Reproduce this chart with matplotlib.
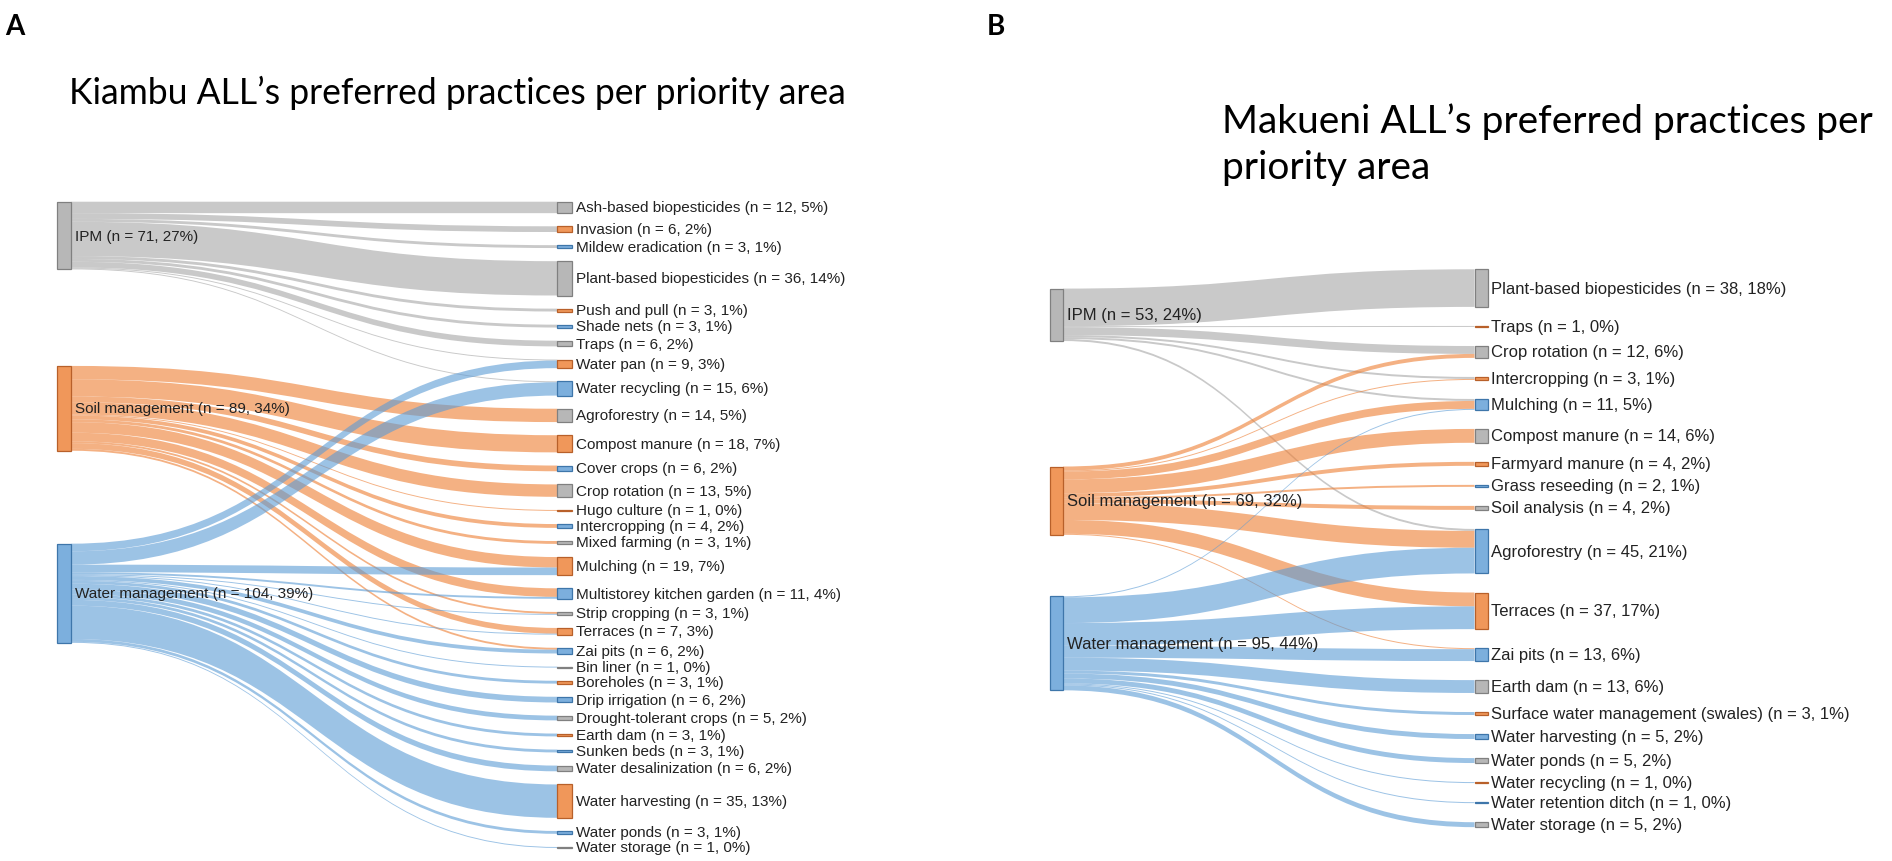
import matplotlib.pyplot as plt
from matplotlib.path import Path
from matplotlib.patches import PathPatch, Rectangle


# Datos del panel A (Kiambu)
kiambu_sources = ['IPM', 'Soil management', 'Water management']
kiambu_source_n = [71, 89, 104]
kiambu_targets = ['Ash-based biopesticides', 'Invasion', 'Mildew eradication',
                  'Plant-based biopesticides', 'Push and pull', 'Shade nets', 'Traps',
                  'Water pan', 'Water recycling', 'Agroforestry', 'Compost manure',
                  'Cover crops', 'Crop rotation', 'Hugo culture', 'Intercropping',
                  'Mixed farming', 'Mulching', 'Multistorey kitchen garden',
                  'Strip cropping', 'Terraces', 'Zai pits', 'Bin liner', 'Boreholes',
                  'Drip irrigation', 'Drought-tolerant crops', 'Earth dam', 'Sunken beds',
                  'Water desalinization', 'Water harvesting', 'Water ponds', 'Water storage']
kiambu_target_n = [12, 6, 3, 36, 3, 3, 6, 9, 15, 14, 18, 6, 13, 1, 4, 3, 19, 11, 3, 7,
                   6, 1, 3, 6, 5, 3, 3, 6, 35, 3, 1]
kiambu_link_src = [0] * 9 + [1] * 12 + [2] * 17
kiambu_link_tgt = ['Ash-based biopesticides', 'Invasion', 'Mildew eradication',
                   'Plant-based biopesticides', 'Push and pull', 'Shade nets', 'Traps',
                   'Water pan', 'Water recycling',
                   'Agroforestry', 'Compost manure', 'Cover crops', 'Crop rotation',
                   'Hugo culture', 'Intercropping', 'Mixed farming', 'Mulching',
                   'Multistorey kitchen garden', 'Strip cropping', 'Terraces', 'Zai pits',
                   'Water pan', 'Water recycling', 'Mulching', 'Multistorey kitchen garden',
                   'Strip cropping', 'Terraces', 'Zai pits', 'Bin liner', 'Boreholes',
                   'Drip irrigation', 'Drought-tolerant crops', 'Earth dam', 'Sunken beds',
                   'Water desalinization', 'Water harvesting', 'Water ponds', 'Water storage']
kiambu_link_val = [12, 6, 3, 36, 3, 3, 6, 1, 1,
                   14, 18, 6, 13, 1, 4, 3, 11, 9, 2, 6, 2,
                   8, 14, 8, 2, 1, 1, 4, 1, 3, 6, 5, 3, 3, 6, 35, 3, 1]
kiambu_node_col = ['g', 'o', 'b'] * 10 + ['g']

# Datos del panel B (Makueni)
makueni_sources = ['IPM', 'Soil management', 'Water management']
makueni_source_n = [53, 69, 95]
makueni_targets = ['Plant-based biopesticides', 'Traps', 'Crop rotation', 'Intercropping',
                   'Mulching', 'Compost manure', 'Farmyard manure', 'Grass reseeding',
                   'Soil analysis', 'Agroforestry', 'Terraces', 'Zai pits', 'Earth dam',
                   'Surface water management (swales)', 'Water harvesting', 'Water ponds',
                   'Water recycling', 'Water retention ditch', 'Water storage']
makueni_target_n = [38, 1, 12, 3, 11, 14, 4, 2, 4, 45, 37, 13, 13, 3, 5, 5, 1, 1, 5]
makueni_link_src = [0] * 6 + [1] * 10 + [2] * 11
makueni_link_tgt = ['Plant-based biopesticides', 'Traps', 'Crop rotation', 'Intercropping',
                    'Mulching', 'Agroforestry',
                    'Crop rotation', 'Intercropping', 'Mulching', 'Compost manure',
                    'Farmyard manure', 'Grass reseeding', 'Soil analysis', 'Agroforestry',
                    'Terraces', 'Zai pits',
                    'Mulching', 'Agroforestry', 'Terraces', 'Zai pits', 'Earth dam',
                    'Surface water management (swales)', 'Water harvesting', 'Water ponds',
                    'Water recycling', 'Water retention ditch', 'Water storage']
makueni_link_val = [38, 1, 8, 2, 2, 2,
                    4, 1, 8, 14, 4, 2, 4, 17, 14, 1,
                    1, 26, 23, 12, 13, 3, 5, 5, 1, 1, 5]
makueni_node_col = ['g', 'o', 'g', 'o', 'b', 'g', 'o', 'b', 'g', 'b', 'o', 'b', 'g', 'o',
                    'b', 'g', 'o', 'b', 'g']


colores = {'g': ('#a5a5a5', '#808080'), 'o': ('#ed7d31', '#b8602a'), 'b': ('#5b9bd5', '#3e76aa')}
fuente = ['Liberation Sans', 'DejaVu Sans']
fuente_titulo = ['Lato', 'DejaVu Sans']
W = 1568.0
H = W * 862 / 1892


def sankey(ax, sources, source_n, targets, target_n, link_src, link_tgt, link_val,
           node_col, xl, xr, top_l, gaps_l, top_r, gap_r, k, w, fs):
    src_col = ['g', 'o', 'b']
    total = sum(source_n)
    # posiciones de los nodos
    sy = []
    y = top_l
    for i, n in enumerate(source_n):
        sy.append(y)
        y += n * k + (gaps_l[i] if i < len(gaps_l) else 0)
    ty = []
    y = top_r
    for n in target_n:
        ty.append(y)
        y += n * k + gap_r
    t_idx = {t: j for j, t in enumerate(targets)}
    nl = len(link_val)
    tj = [t_idx[t] for t in link_tgt]
    # desplazamientos en origen y destino
    a0 = [0] * nl
    b0 = [0] * nl
    off = list(sy)
    for i in sorted(range(nl), key=lambda i: (link_src[i], tj[i])):
        a0[i] = off[link_src[i]]
        off[link_src[i]] += link_val[i] * k
    off = list(ty)
    for i in sorted(range(nl), key=lambda i: (tj[i], link_src[i])):
        b0[i] = off[tj[i]]
        off[tj[i]] += link_val[i] * k
    xs = xl + w
    xt = xr
    xm = (xs + xt) / 2
    for i in range(nl):
        h = link_val[i] * k
        verts = [(xs, a0[i]), (xm, a0[i]), (xm, b0[i]), (xt, b0[i]),
                 (xt, b0[i] + h), (xm, b0[i] + h), (xm, a0[i] + h), (xs, a0[i] + h),
                 (xs, a0[i])]
        codes = [Path.MOVETO, Path.CURVE4, Path.CURVE4, Path.CURVE4,
                 Path.LINETO, Path.CURVE4, Path.CURVE4, Path.CURVE4, Path.CLOSEPOLY]
        ax.add_patch(PathPatch(Path(verts, codes), facecolor=colores[src_col[link_src[i]]][0],
                               edgecolor='none', alpha=0.6, zorder=1))
    # nodos de origen
    for i, n in enumerate(source_n):
        c = colores[src_col[i]]
        ax.add_patch(Rectangle((xl, sy[i]), w, n * k, facecolor=c[0], alpha=0.8,
                               edgecolor='none', zorder=2))
        ax.add_patch(Rectangle((xl, sy[i]), w, n * k, facecolor='none',
                               edgecolor=c[1], lw=0.9, zorder=3))
        ax.text(xs + 3, sy[i] + n * k / 2,
                f'{sources[i]} (n = {n}, {round(100 * n / total)}%)',
                va='center', ha='left', fontsize=fs, family=fuente, color='#222222', zorder=4)
    # nodos de destino
    for j, n in enumerate(target_n):
        c = colores[node_col[j]]
        ax.add_patch(Rectangle((xr, ty[j]), w, n * k, facecolor=c[0], alpha=0.8,
                               edgecolor='none', zorder=2))
        ax.add_patch(Rectangle((xr, ty[j]), w, n * k, facecolor='none',
                               edgecolor=c[1], lw=0.9, zorder=3))
        ax.text(xr + w + 3, ty[j] + n * k / 2,
                f'{targets[j]} (n = {n}, {round(100 * n / total)}%)',
                va='center', ha='left', fontsize=fs, family=fuente, color='#222222', zorder=4)


fig = plt.figure(figsize=(18.92, 8.62), dpi=100)
ax = fig.add_axes([0, 0, 1, 1])
ax.set_xlim(0, W)
ax.set_ylim(H, 0)
ax.axis('off')

sankey(ax, kiambu_sources, kiambu_source_n, kiambu_targets, kiambu_target_n,
       kiambu_link_src, kiambu_link_tgt, kiambu_link_val, kiambu_node_col,
       47, 462, 168, [80, 77], 168, 10.9, 0.79, 12, 11)
sankey(ax, makueni_sources, makueni_source_n, makueni_targets, makueni_target_n,
       makueni_link_src, makueni_link_tgt, makueni_link_val, makueni_node_col,
       870, 1222, 240, [104, 51], 224, 15.8, 0.82, 11, 12)

# Títulos y letras de panel
ax.text(4, 22, 'A', fontsize=20, fontweight='bold', family=fuente_titulo, va='center')
ax.text(818, 22, 'B', fontsize=20, fontweight='bold', family=fuente_titulo, va='center')
ax.text(57, 77, 'Kiambu ALL\u2019s preferred practices per priority area', fontsize=25.6,
        family=fuente_titulo, va='center')
ax.text(1013, 101, 'Makueni ALL\u2019s preferred practices per', fontsize=28,
        family=fuente_titulo, va='center')
ax.text(1013, 139, 'priority area', fontsize=28, family=fuente_titulo, va='center')

fig.savefig('out.png', dpi=100)
